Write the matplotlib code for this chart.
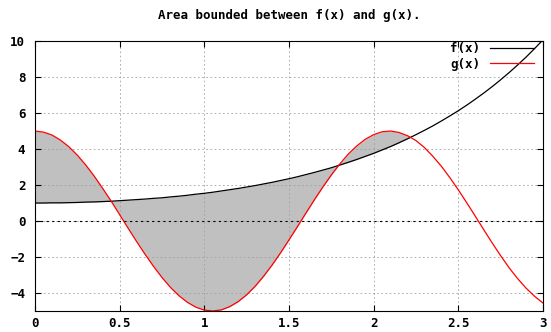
import numpy as np
import matplotlib.pyplot as plt

# sample points, step 0.05
x = np.round(np.arange(61) * 0.05, 2)

f_vals = [1.00, 1.00, 1.01, 1.01, 1.02, 1.03, 1.05, 1.06, 1.08, 1.10,
          1.13, 1.16, 1.19, 1.22, 1.26, 1.29, 1.34, 1.38, 1.43, 1.49,
          1.54, 1.60, 1.67, 1.74, 1.81, 1.89, 1.97, 2.06, 2.15, 2.25,
          2.35, 2.46, 2.58, 2.70, 2.83, 2.96, 3.11, 3.26, 3.42, 3.59,
          3.76, 3.95, 4.14, 4.35, 4.57, 4.80, 5.04, 5.29, 5.56, 5.84,
          6.13, 6.44, 6.77, 7.11, 7.47, 7.85, 8.25, 8.67, 9.11, 9.58,
          10.07]

g_vals = [5.00, 4.94, 4.78, 4.50, 4.13, 3.66, 3.11, 2.49, 1.81, 1.10,
          0.35, -0.40, -1.14, -1.85, -2.52, -3.14, -3.69, -4.15, -4.52, -4.79,
          -4.95, -5.00, -4.94, -4.76, -4.48, -4.10, -3.63, -3.07, -2.45, -1.77,
          -1.05, -0.31, 0.44, 1.18, 1.89, 2.56, 3.17, 3.72, 4.17, 4.54,
          4.80, 4.96, 5.00, 4.92, 4.74, 4.47, 4.08, 3.59, 3.04, 2.41,
          1.73, 1.01, 0.27, -0.48, -1.22, -1.93, -2.60, -3.20, -3.73, -4.18,
          -4.56]

xticks = [0, 0.5, 1, 1.5, 2, 2.5, 3]
xtick_labels = ['0', '0.5', '1', '1.5', '2', '2.5', '3']
yticks = [-4, -2, 0, 2, 4, 6, 8, 10]

plt.rcParams['font.family'] = 'DejaVu Sans Mono'
plt.rcParams['font.weight'] = 'bold'
plt.rcParams['font.size'] = 9

fig = plt.figure(figsize=(5.51, 3.32), dpi=100)
ax = fig.add_axes([0.0635, 0.0633, 0.922, 0.813])

f_arr = np.array(f_vals)
g_arr = np.array(g_vals)
# shade from x=0 up to the last crossing of the two curves
region = (x < 2.0) | (g_arr >= f_arr)
ax.fill_between(x, f_arr, g_arr, where=region, color='#c0c0c0', linewidth=0,
                interpolate=True)
ax.plot(x, f_vals, color='black', linewidth=0.9, label='f(x)')
ax.plot(x, g_vals, color='red', linewidth=0.9, label='g(x)')

ax.axhline(0, color='black', linestyle=(0, (2, 3)), linewidth=0.8)
ax.grid(True, color='#a0a0a0', linestyle=(0, (2, 3)), linewidth=0.6)

ax.set_xlim(0, 3)
ax.set_ylim(-5, 10)
ax.set_xticks(xticks)
ax.set_xticklabels(xtick_labels)
ax.set_yticks(yticks)
ax.tick_params(direction='in', length=4, top=True, right=True)
ax.tick_params(axis='x', pad=4)
ax.tick_params(axis='y', pad=7)
for s in ax.spines.values():
    s.set_linewidth(0.8)

ax.set_title('Area bounded between f(x) and g(x).', pad=16, fontsize=9, fontweight='bold')

ax.legend(loc='upper right', bbox_to_anchor=(0.984, 1.0), frameon=False,
          markerfirst=False, handlelength=3.5, borderaxespad=0.0, borderpad=0.1,
          labelspacing=0.2, handletextpad=0.8)

fig.savefig('out.png', dpi=100)
